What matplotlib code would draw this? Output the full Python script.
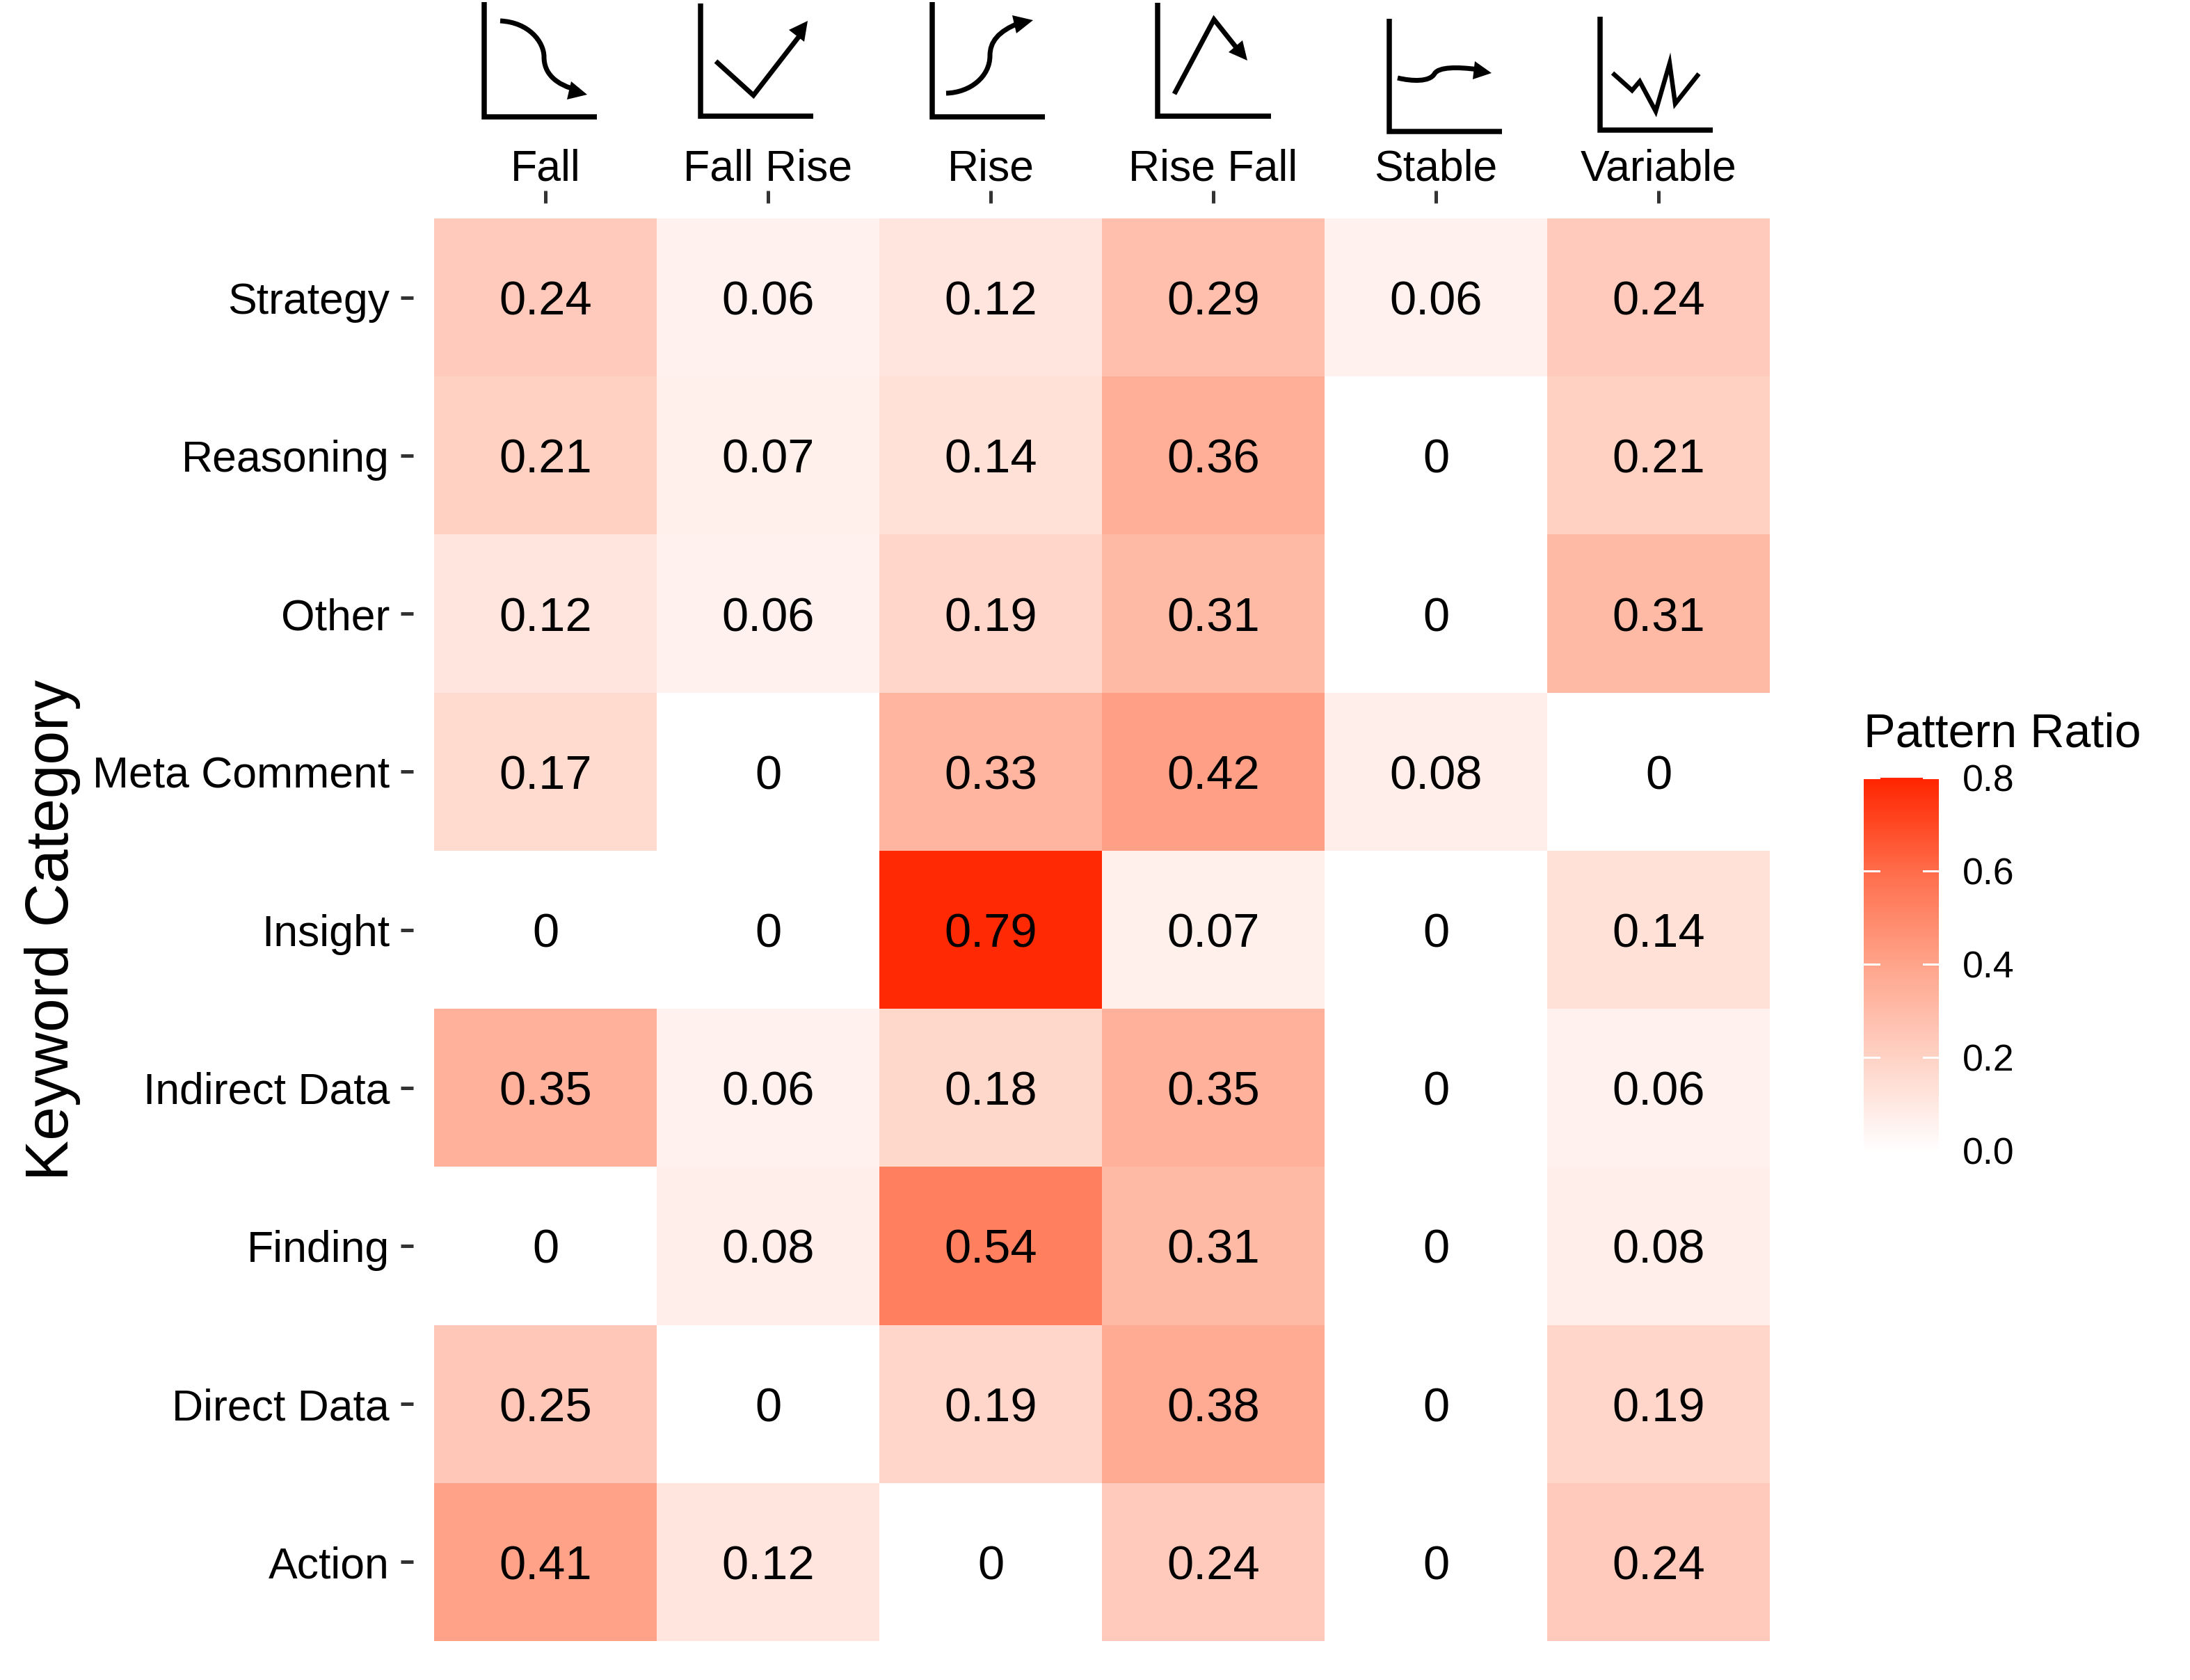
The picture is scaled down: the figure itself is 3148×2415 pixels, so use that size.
import numpy as np
import matplotlib
matplotlib.use("Agg")
import matplotlib.pyplot as plt
from matplotlib.colors import LinearSegmentedColormap, Normalize
from matplotlib.cm import ScalarMappable
from matplotlib.path import Path
from matplotlib.patches import PathPatch, Polygon

plt.rcParams["font.family"] = ["Liberation Sans", "DejaVu Sans"]

patterns = ["Fall", "Fall Rise", "Rise", "Rise Fall", "Stable", "Variable"]
categories = ["Strategy", "Reasoning", "Other", "Meta Comment", "Insight",
              "Indirect Data", "Finding", "Direct Data", "Action"]
ratios = [
    [0.24, 0.06, 0.12, 0.29, 0.06, 0.24],
    [0.21, 0.07, 0.14, 0.36, 0, 0.21],
    [0.12, 0.06, 0.19, 0.31, 0, 0.31],
    [0.17, 0, 0.33, 0.42, 0.08, 0],
    [0, 0, 0.79, 0.07, 0, 0.14],
    [0.35, 0.06, 0.18, 0.35, 0, 0.06],
    [0, 0.08, 0.54, 0.31, 0, 0.08],
    [0.25, 0, 0.19, 0.38, 0, 0.19],
    [0.41, 0.12, 0, 0.24, 0, 0.24],
]
legend_ticks = [0.0, 0.2, 0.4, 0.6, 0.8]

# icon sketches, in pixels of the output image
icon_frames = [(696, 3, 858, 168), (1007, 5, 1169, 167), (1340, 3, 1502, 168),
               (1664, 4, 1827, 167), (1997, 27, 2159, 189), (2300, 24, 2462, 187)]
icon_lines = {
    "fall rise": [(1029, 88), (1083, 137), (1152, 48)],
    "rise fall": [(1688, 135), (1745, 28), (1780, 72)],
    "variable": [(2318, 105), (2346, 130), (2357, 117), (2380, 160),
                 (2400, 91), (2408, 149), (2442, 106)],
}
icon_curves = {
    "fall": [(719, 30), (760, 32), (782, 60), (782, 82), (782, 105), (798, 122), (832, 130)],
    "rise": [(1360, 134), (1395, 133), (1423, 110), (1423, 80), (1423, 60), (1435, 45), (1465, 33)],
    "stable": [(2009, 112), (2030, 117), (2055, 118), (2062, 106), (2068, 96), (2095, 96), (2125, 100)],
}
icon_heads = [
    [(844, 136), (821, 117), (815, 143)],
    [(1161, 30), (1134, 43), (1156, 60)],
    [(1485, 29), (1455, 22), (1461, 48)],
    [(1793, 87), (1786, 58), (1766, 75)],
    [(2144, 105), (2120, 88), (2117, 114)],
]

W, H = 3148, 2415
DPI = 300


def box(x0, y0, x1, y1):
    return [x0 / W, 1 - y1 / H, (x1 - x0) / W, (y1 - y0) / H]


def px(n):
    return n * 72 / DPI


cmap = LinearSegmentedColormap.from_list("pattern", [
    (0.0, "#FFFFFF"), (0.25, "#FFD3C6"), (0.5, "#FFA58C"),
    (0.75, "#FF6E4C"), (1.0, "#FF2600")])
norm = Normalize(0, 0.8)

fig = plt.figure(figsize=(W / DPI, H / DPI), dpi=DPI)

# the panel is a bit larger than the tiles so ticks stand off from them
left, right, top, bottom = 624, 2544, 314, 2359
gap_x, gap_y = 30, 22
cell_w = (right - left) / len(patterns)
cell_h = (bottom - top) / len(categories)
ax = fig.add_axes(box(left - gap_x, top - gap_y, right + gap_x, bottom + gap_y))
ax.pcolormesh(np.arange(len(patterns) + 1) - 0.5, np.arange(len(categories) + 1) - 0.5,
              np.array(ratios), cmap=cmap, norm=norm)
ax.set_xlim(-0.5 - gap_x / cell_w, len(patterns) - 0.5 + gap_x / cell_w)
ax.set_ylim(len(categories) - 0.5 + gap_y / cell_h, -0.5 - gap_y / cell_h)
for r, row in enumerate(ratios):
    for c, v in enumerate(row):
        ax.text(c, r, f"{v:g}", ha="center", va="center_baseline", fontsize=16.5, color="black")
for s in ax.spines.values():
    s.set_visible(False)
ax.xaxis.tick_top()
ax.set_xticks(range(len(patterns)), patterns)
ax.set_yticks(range(len(categories)), categories)
ax.tick_params(axis="both", length=px(18), width=px(5), color="#333333", labelsize=15)
ax.tick_params(axis="x", pad=px(1))
ax.tick_params(axis="y", pad=px(16))

# colour bar
cax = fig.add_axes(box(2679, 1118, 2787, 1654))
cbar = fig.colorbar(ScalarMappable(norm=norm, cmap=cmap), cax=cax, ticks=legend_ticks)
cbar.outline.set_visible(False)
cbar.solids.set_edgecolor("face")
cax.tick_params(length=0, pad=px(34), labelsize=12.9)
cax.set_yticklabels([f"{t:.1f}" for t in legend_ticks])
for t in legend_ticks:
    cax.plot([0, 0.2], [t, t], color="white", lw=px(3), clip_on=False)
    cax.plot([0.8, 1], [t, t], color="white", lw=px(3), clip_on=False)

# overlay in image pixels for icons and free text
over = fig.add_axes([0, 0, 1, 1], facecolor="none")
over.set_xlim(0, W)
over.set_ylim(H, 0)
over.axis("off")

for x0, y_top, x1, y_base in icon_frames:
    over.plot([x0, x0, x1], [y_top, y_base, y_base], color="black", lw=px(7.5),
              solid_joinstyle="miter", solid_capstyle="butt")
for name, pts in icon_lines.items():
    xs, ys = zip(*pts)
    over.plot(xs, ys, color="black", lw=px(6.5 if name == "variable" else 7),
              solid_joinstyle="miter", solid_capstyle="butt")
for pts in icon_curves.values():
    codes = [Path.MOVETO] + [Path.CURVE4] * (len(pts) - 1)
    over.add_patch(PathPatch(Path(pts, codes), fc="none", ec="black", lw=px(7), capstyle="butt"))
for pts in icon_heads:
    over.add_patch(Polygon(pts, closed=True, fc="black", ec="none"))

over.text(76, 1337, "Keyword Category", rotation=90, ha="center", va="center", fontsize=21)
over.text(2679, 1074, "Pattern Ratio", ha="left", va="baseline", fontsize=16.4)

fig.savefig("out.png", dpi=DPI)
